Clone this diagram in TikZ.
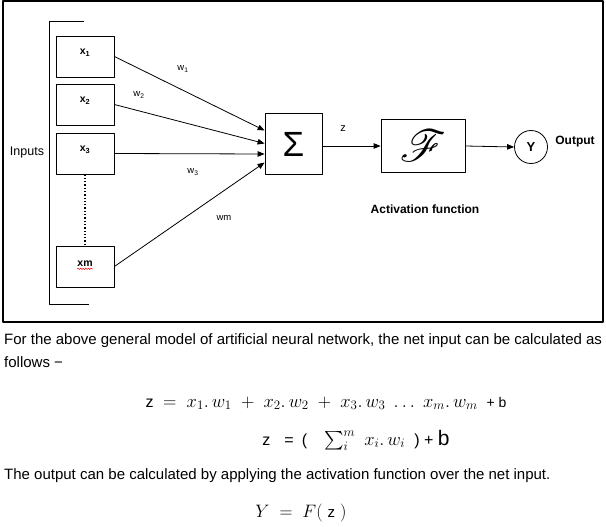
\RequirePackage{fix-cm}
\documentclass[tikz,border=0pt]{standalone}
\usepackage[no-math]{fontspec}
\setmainfont{Liberation Sans}
\usepackage{amsmath,amssymb}
\IfFileExists{mathrsfs.sty}{\usepackage{mathrsfs}}{\let\mathscr\mathcal}
\usepackage{tikz}
\usetikzlibrary{arrows.meta,decorations.pathmorphing}
\newcommand{\fs}[1]{\fontsize{#1}{#1}\selectfont}
\tikzset{
  every picture/.style={line join=round, >={Triangle[length=7pt,width=5.5pt]}},
  wire/.style={line width=0.8pt},
  inbox/.style={draw, line width=0.8pt, minimum width=58pt, minimum height=41pt, inner sep=0},
  inlab/.style={font=\bfseries\fs{10.5}, inner sep=0},
  wlab/.style={font=\fs{9.5}, inner sep=0},
  blk/.style={draw, line width=0.8pt, inner sep=0},
  para/.style={anchor=base west, font=\fs{15}, inner sep=0},
}

\begin{document}
\begin{tikzpicture}[x=1pt,y=-1pt]
\useasboundingbox (0,0) rectangle (606,527);
\draw[line width=1.3pt] (3,1) rectangle (603,322);
% inputs
\draw[wire] (84,21) -- (49,21) -- (49,304) -- (89,304);
\node[font=\fs{12.5}, inner sep=0] (inputs) at (27,152) {Inputs};
\foreach \n/\y/\s in {x1/56.5/1, x2/104.5/2, x3/153.5/3}{
  \node[inbox] (\n) at (85,\y) {};
  \node[inlab] (lab\n) at ([yshift=4pt]\n.center) {x\textsubscript{\s}};
}
\node[inbox] (xm) at (85,266.5) {};
\node[inlab] (labxm) at ([yshift=3pt]xm.center) {xm};
\draw[red, line width=0.5pt, decorate, decoration={snake, amplitude=0.7pt, segment length=2.6pt}]
  ([yshift=-2.5pt]labxm.base west) -- ([yshift=-2.5pt]labxm.base east);
\draw[dotted, line width=1.3pt] (x3.south) -- (xm.north);
% summation
\node[blk, minimum width=57pt, minimum height=61pt] (sum) at (293.5,144) {\fs{35}Σ};
\draw[wire,->] (x1.east) -- ([yshift=13.5pt]sum.west);
\draw[wire,->] (x2.east) -- ([yshift=0.5pt]sum.west);
\draw[wire,->] (x3.east) -- ([yshift=-10pt]sum.west);
\draw[wire,->] (xm.east) -- ([yshift=-18.5pt]sum.west);
\node[wlab] (w1) at (183,69) {w\textsubscript{1}};
\node[wlab] (w2) at (139,95) {w\textsubscript{2}};
\node[wlab] (w3) at (193,172) {w\textsubscript{3}};
\node[wlab] (wm) at (224,218) {wm};
% activation
\node[blk, minimum width=84pt, minimum height=53pt] (act) at (423,146) {\scalebox{1.8}{\fs{34}$\mathscr{F}$}};
\draw[wire,->] (sum.east |- act.west) -- (act.west);
\node[font=\fs{11}, inner sep=0] (z) at (343,129) {z};
\node[blk, circle, minimum size=33pt] (out) at (531,147) {\bfseries\fs{13}Y};
\draw[wire,->] (act.east) -- (out.west);
\node[font=\bfseries\fs{12}, inner sep=0] (outlab) at (575,142) {Output};
\node[font=\bfseries\fs{12}, inner sep=0] (actlab) at (425,209) {Activation function};
% text
\node[para] (p1) at (4,344) {For the above general model of artificial neural network, the net input can be calculated as};
\node[para] (p2) at (4,367) {follows −};
\node[anchor=base, inner sep=0, font=\fs{16}] (eq1) at (326,407)
  {z {\fs{18.5}$\;=\; x_1.\,w_1 \;+\; x_2.\,w_2 \;+\; x_3.\,w_3 \;\ldots\; x_m.\,w_m$} \ {\fs{14}+ b}};
\node[anchor=base, inner sep=0, font=\fs{16}] (eq2) at (356,445)
  {z\hspace{14pt}=\hspace{8pt}(\hspace{17pt}{\fs{18.5}$\sum_i^m$\hspace{9pt}$x_i.\,w_i$}\hspace{9pt}) + {\fs{21}b}};
\node[para] (p3) at (4,479) {The output can be calculated by applying the activation function over the net input.};
\node[anchor=base, inner sep=0, font=\fs{18}] (eq3) at (301,517) {$Y \;=\; F(\;${\fs{15}z}$\;)$};
\end{tikzpicture}
\end{document}
